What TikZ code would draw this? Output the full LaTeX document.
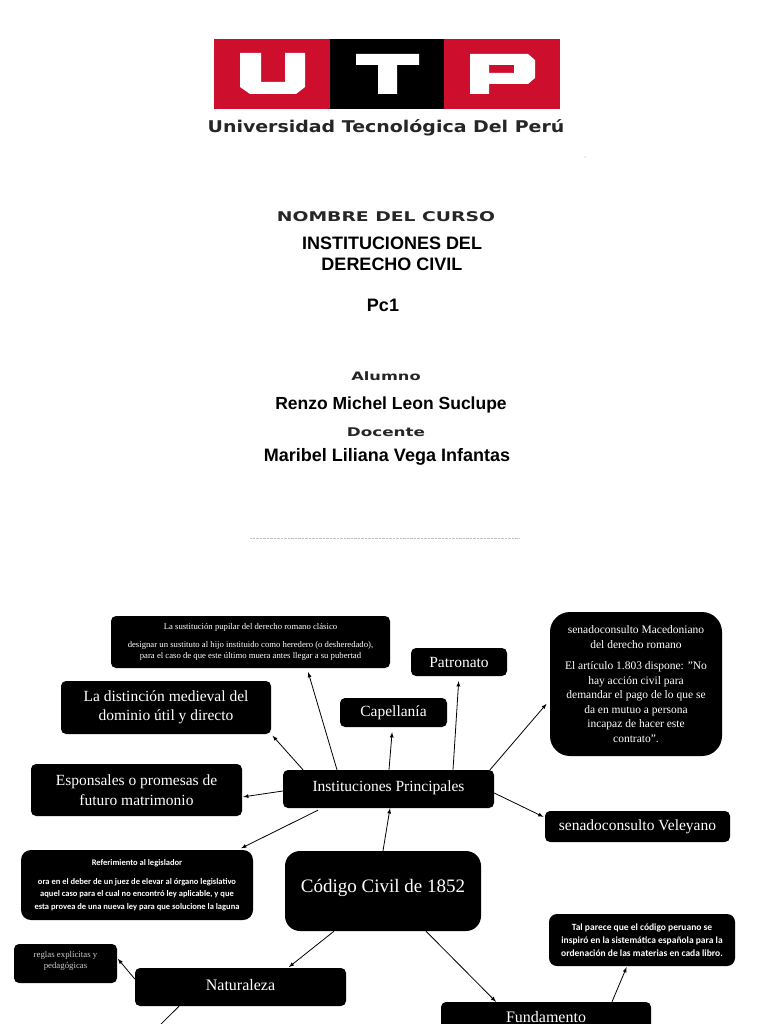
\documentclass[tikz,border=0pt]{standalone}
\usepackage{fontspec}
\setmainfont{Liberation Serif}
\newfontfamily\headfont{Liberation Sans}
\newfontfamily\widefont[FakeStretch=1.4]{DejaVu Sans}
\newfontfamily\logofont[FakeStretch=1.17]{DejaVu Sans}
\newfontfamily\smallfont{Carlito}
\newcommand{\fsize}[2]{\fontsize{#1}{#2}\selectfont}
\definecolor{utpred}{HTML}{CE0E2D}

\tikzstyle{box} = [fill=black, text=white, rounded corners=5pt, align=center, inner sep=0pt]
\tikzstyle{bigbox} = [box, rounded corners=15pt]
\tikzstyle{head} = [font=\headfont\bfseries\fsize{18}{21}, align=center, inner sep=0pt]
\tikzstyle{wide} = [font=\widefont\bfseries\fsize{12}{15}, text=black!85, inner sep=0pt]
\tikzstyle{arrow} = [-latex, line width=0.8pt, shorten >=1pt]

\begin{document}
\begin{tikzpicture}[x=1pt, y=-1pt]
\useasboundingbox (0,0) rectangle (768,1024);
\clip (0,0) rectangle (768,1024);

% logo
\fill[utpred] (214,39) rectangle (560,109);
\fill[black] (330,39) rectangle (444,109);
\fill[white] (240,53) -- (261,53) -- (261,82) -- (285,82) -- (285,53) -- (305,53) -- (305,87) -- (296,94) -- (250,94) -- (240,87) -- cycle;
\fill[white] (356,54) -- (419,54) -- (419,65) -- (397,65) -- (397,94) -- (378,94) -- (378,65) -- (356,65) -- cycle;
\fill[white, even odd rule] (470,54) -- (528,54) -- (535,60) -- (535,78) -- (528,84) -- (489,84) -- (489,94) -- (470,94) -- cycle (489,65) -- (489,73) -- (514,73) -- (514,65) -- cycle;
\node[wide, font=\logofont\bfseries\fsize{16.2}{20}] (uni) at (386,128) {Universidad Tecnológica Del Perú};

% portada
\node[wide, font=\widefont\bfseries\fsize{13.4}{15}] (curso) at (386,217) {NOMBRE DEL CURSO};
\node[head] (inst1) at (392,254) {INSTITUCIONES DEL\\DERECHO CIVIL};
\node[head] (pc) at (383,305) {Pc1};
\node[wide, font=\widefont\bfseries\fsize{11.6}{15}] (alumno) at (386,376) {Alumno};
\node[head, font=\headfont\bfseries\fsize{17.5}{21}] (renzo) at (391,404.5) {Renzo Michel Leon Suclupe};
\node[wide, font=\widefont\bfseries\fsize{12}{15}] (docente) at (386,432) {Docente};
\node[head] (maribel) at (387,456.5) {Maribel Liliana Vega Infantas};
\draw[black!25, densely dotted] (250,538) -- (520,538);
\fill[black!50] (585,157) circle (0.5);

% mapa
\node[bigbox, minimum width=196pt, minimum height=80pt, font=\fsize{19}{23}] (codigo) at (383,891) {Código Civil de 1852\\[-13pt]};
\node[box, minimum width=211pt, minimum height=38pt, font=\fsize{15.5}{18}] (inst) at (388.5,789) {Instituciones Principales\\[-12pt]};
\node[box, minimum width=279pt, minimum height=52pt, font=\fsize{8.7}{11.5}] (sust) at (250.5,642) {La sustitución pupilar del derecho romano clásico\\[6pt]designar un sustituto al hijo instituido como heredero (o desheredado),\\para el caso de que este último muera antes llegar a su pubertad};
\node[box, minimum width=210pt, minimum height=53pt, font=\fsize{15.5}{19.5}] (dist) at (166,707.5) {La distinción medieval del\\dominio útil y directo};
\node[box, minimum width=107pt, minimum height=29pt, font=\fsize{15.5}{18}] (cap) at (393.5,712.5) {Capellanía};
\node[box, minimum width=96pt, minimum height=28pt, font=\fsize{15.5}{18}] (pat) at (459,662) {Patronato};
\node[bigbox, rounded corners=20pt, minimum width=172pt, minimum height=144pt, font=\fsize{11.5}{14.5}] (mac) at (636,684) {senadoconsulto Macedoniano\\del derecho romano\\[7pt]El artículo 1.803 dispone: "No\\hay acción civil para\\demandar el pago de lo que se\\da en mutuo a persona\\incapaz de hacer este\\contrato".};
\node[box, minimum width=211pt, minimum height=52pt, font=\fsize{15.5}{19.5}] (espon) at (136.5,790) {Esponsales o promesas de\\futuro matrimonio};
\node[box, minimum width=185pt, minimum height=31pt, font=\fsize{15.5}{18}] (vel) at (637.5,826.5) {senadoconsulto Veleyano};
\node[box, rounded corners=10pt, minimum width=232pt, minimum height=70pt, font=\smallfont\bfseries\fsize{8.5}{12.5}] (refer) at (137,885) {Referimiento al legislador\\[6pt]ora en el deber de un juez de elevar al órgano legislativo\\aquel caso para el cual no encontró ley aplicable, y que\\esta provea de una nueva ley para que solucione la laguna};
\node[box, minimum width=103pt, minimum height=39pt, font=\fsize{8.8}{11.5}, text=white!80!black] (reglas) at (65.5,963.5) {reglas explícitas y\\pedagógicas\\[-4.5pt]};
\node[box, minimum width=211pt, minimum height=38pt, font=\fsize{16}{19}] (nat) at (240.5,987) {Naturaleza\\[-15pt]};
\node[box, rounded corners=8pt, minimum width=186pt, minimum height=52pt, font=\smallfont\bfseries\fsize{9.5}{13}] (tal) at (642,940) {Tal parece que el código peruano se\\inspiró en la sistemática española para la\\ordenación de las materias en cada libro.};
\node[box, minimum width=210pt, minimum height=30pt, font=\fsize{16}{19}] (fund) at (546,1017) {Fundamento};
\coordinate (natend) at (141,1044);

% conectores
\draw[arrow, shorten >=4pt] ([xshift=-51.5pt]inst.north) -- ([xshift=56.5pt]sust.south);
\draw[arrow, shorten >=2pt] ([xshift=-85.5pt]inst.north) -- (dist.south east);
\draw[arrow] ([yshift=-2pt]inst.west) -- ([yshift=-7pt]espon.east);
\draw[arrow, shorten <=4.5pt, shorten >=3.5pt] ([xshift=-66.5pt]inst.south) -- ([xshift=101pt]refer.north);
\draw[arrow, shorten >=5pt] ([xshift=0.5pt]inst.north) -- ([xshift=-1pt]cap.south);
\draw[arrow, shorten >=5pt] ([xshift=64.5pt]inst.north) -- (pat.south);
\draw[arrow, shorten >=5pt] ([xshift=101.5pt]inst.north) -- ([yshift=-16pt]mac.west);
\draw[arrow, shorten >=1.5pt] ([yshift=-4pt]inst.east) -- ([yshift=9pt]vel.west);
\draw[arrow, shorten >=0pt] (codigo.north) -- ([xshift=1.5pt]inst.south);
\draw[arrow] ([xshift=-49pt]codigo.south) -- ([xshift=47.5pt]nat.north);
\draw[arrow, shorten >=0pt] ([xshift=43pt]codigo.south) -- ([xshift=-50pt]fund.north);
\draw[arrow] ([yshift=8pt]nat.west) -- ([yshift=5.5pt]reglas.east);
\draw[line width=0.8pt] ([xshift=-61.5pt]nat.south) -- (natend);
\draw[arrow] ([xshift=66pt]fund.north) -- ([xshift=-15pt]tal.south);
\end{tikzpicture}
\end{document}
